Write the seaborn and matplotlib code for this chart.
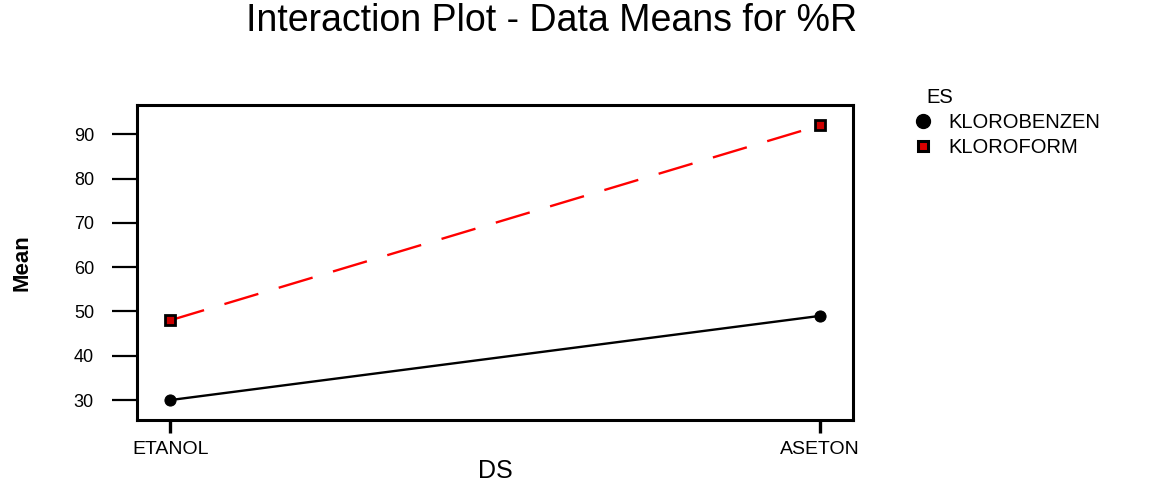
import matplotlib
matplotlib.use("Agg")
import matplotlib.pyplot as plt
from matplotlib.lines import Line2D
import seaborn as sns
import pandas as pd

# ---- data ----
ds_levels = ["ETANOL", "ASETON"]
es_levels = ["KLOROBENZEN", "KLOROFORM"]
klorobenzen_means = [30.0, 49.0]
kloroform_means = [48.0, 92.0]
y_ticks = [30, 40, 50, 60, 70, 80, 90]

df = pd.DataFrame({
    "DS": ds_levels * 2,
    "ES": [es_levels[0]] * 2 + [es_levels[1]] * 2,
    "Mean": klorobenzen_means + kloroform_means,
})

sns.set_style("white")
plt.rcParams["font.family"] = ["Liberation Sans", "DejaVu Sans"]
plt.rcParams["text.color"] = "black"
plt.rcParams["axes.labelcolor"] = "black"
plt.rcParams["xtick.color"] = "black"
plt.rcParams["ytick.color"] = "black"

fig = plt.figure(figsize=(11.71, 4.88), dpi=100)
ax = fig.add_axes([0.117, 0.1393, 0.6114, 0.6455])

sub1 = df[df["ES"] == es_levels[0]]
sub2 = df[df["ES"] == es_levels[1]]
sns.lineplot(data=sub1, x="DS", y="Mean", ax=ax, color="black", linewidth=1.7,
             marker="o", markersize=8, markerfacecolor="black",
             markeredgecolor="black", legend=False)
sns.lineplot(data=sub2, x="DS", y="Mean", ax=ax, color="#ff0000", linewidth=1.7,
             dashes=False, linestyle=(0, (15, 9)),
             marker="s", markersize=7, markerfacecolor="#cc0000",
             markeredgecolor="black", markeredgewidth=2.0, legend=False)

ax.set_xlim(-0.051, 1.051)
ax.set_ylim(25.5, 96.6)
ax.set_yticks(y_ticks)
ax.set_xticks([0, 1])
ax.set_xticklabels(ds_levels)

for s in ax.spines.values():
    s.set_visible(True)
    s.set_color("black")
    s.set_linewidth(2.2)

ax.tick_params(axis="y", direction="out", length=18, width=1.6, pad=13,
               labelsize=13, colors="black", left=True)
ax.tick_params(axis="x", direction="out", length=9, width=2.4, pad=6,
               labelsize=14, colors="black", bottom=True)

ax.set_xlabel("DS", fontsize=18, va="center")
ax.xaxis.set_label_coords(0.5, -0.162)
ax.set_ylabel("Mean", fontsize=16, fontweight="bold", va="center", ha="center")
ax.yaxis.set_label_coords(-0.161, 0.5)

fig.text(0.4714, 0.956, "Interaction Plot - Data Means for %R",
         ha="center", va="center", fontsize=27, color="black")

handles = [
    Line2D([], [], linestyle="none", marker="o", markersize=10,
           markerfacecolor="black", markeredgecolor="black"),
    Line2D([], [], linestyle="none", marker="s", markersize=7,
           markerfacecolor="#dd0000", markeredgecolor="black", markeredgewidth=2.2),
]
leg = ax.legend(handles, es_levels, title="ES", loc="upper left",
                bbox_to_anchor=(0.769, 0.848), bbox_transform=fig.transFigure,
                frameon=False, fontsize=14.5, title_fontsize=14.5,
                handlelength=0.8, handletextpad=0.9, labelspacing=0.3,
                borderpad=0.2)
leg._legend_box.align = "left"
for t in leg.get_texts():
    t.set_color("black")
leg.get_title().set_color("black")
leg.get_title().set_position((12, 0))

fig.savefig("out.png", dpi=100)
